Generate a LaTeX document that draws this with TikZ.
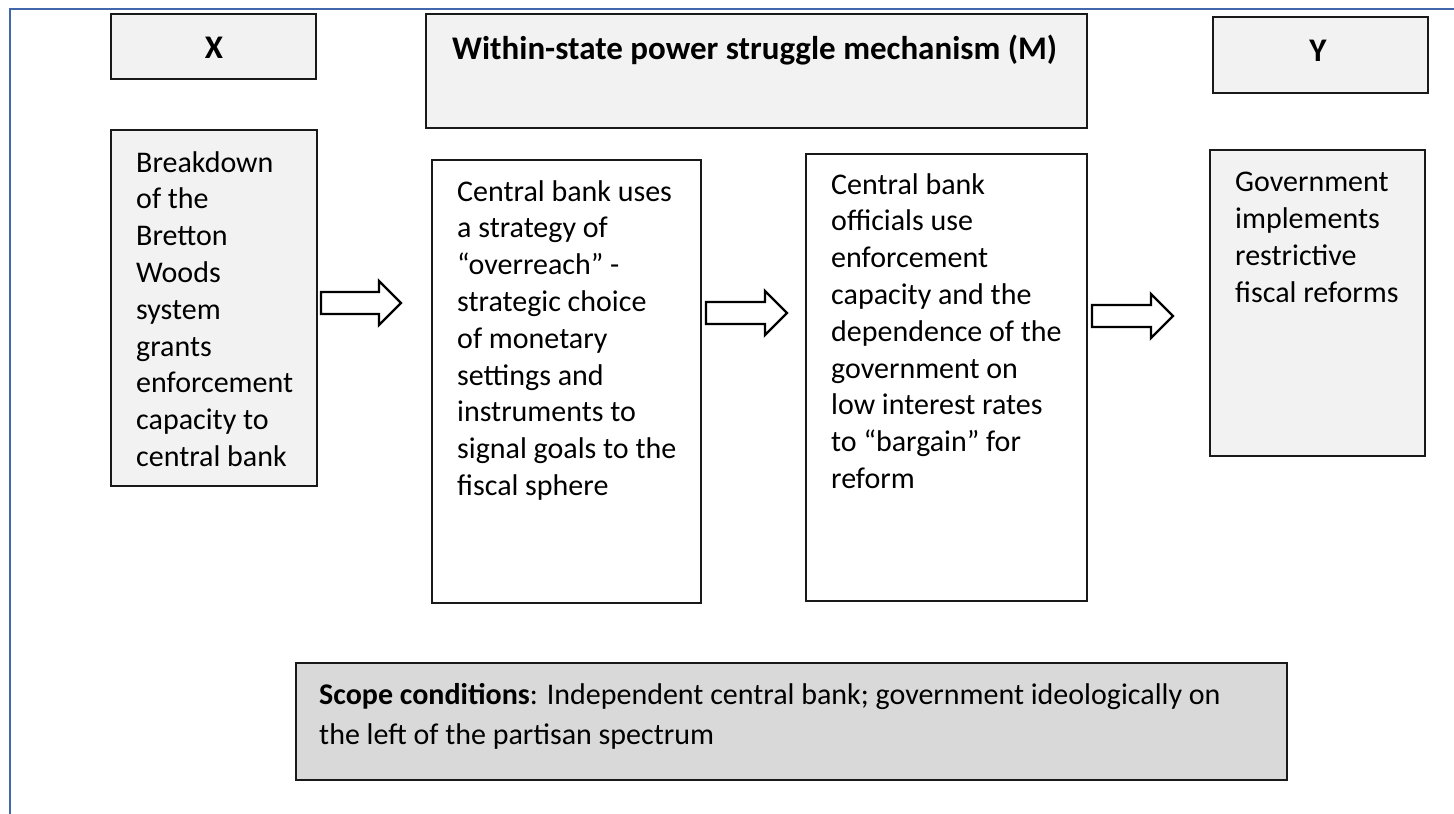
\documentclass[tikz,border=0pt]{standalone}
\usepackage{fontspec}
\setmainfont{Carlito}
\definecolor{framebl}{RGB}{66,103,172}
\definecolor{paleg}{RGB}{242,242,242}
\definecolor{scopeg}{RGB}{217,217,217}
\tikzset{
  boxbase/.style={draw=black!90, line width=2pt, rectangle, inner sep=0pt, outer sep=0pt, anchor=north west},
  lightbox/.style={boxbase, fill=paleg},
  whitebox/.style={boxbase, fill=white},
  scopebox/.style={boxbase, fill=scopeg},
  headtxt/.style={font=\fontsize{33}{37}\selectfont\bfseries, inner sep=0pt, anchor=base},
  % multi-line texts are anchored at the baseline of their last line
  bodytxt/.style={font=\fontsize{30}{36.8}\selectfont, align=left, inner sep=0pt, anchor=base west},
  scopetxt/.style={font=\fontsize{30}{40}\selectfont, align=left, inner sep=0pt, anchor=base west},
  blockarr/.style={draw=black, line width=2.3pt, fill=white, line join=miter}
}
% hollow block arrow: tail x, head base x, tip x, centre y
\newcommand\flowarrow[4]{%
  \draw[blockarr] (#1,#4-11) -- (#2,#4-11) -- (#2,#4-22) -- (#3,#4)
    -- (#2,#4+22) -- (#2,#4+11) -- (#1,#4+11) -- cycle;}
\begin{document}
\begin{tikzpicture}[x=1pt,y=-1pt]
\useasboundingbox (0,0) rectangle (1454,814);
% page frame
\draw[framebl, line width=2.5pt] (10,814) -- (10,9) -- (1454,9);

% header row
\node[lightbox, minimum width=205pt, minimum height=65pt] (xhead) at (111,14) {};
\node[lightbox, minimum width=661pt, minimum height=114pt] (mhead) at (426,14) {};
\node[lightbox, minimum width=215pt, minimum height=76pt] (yhead) at (1213,17) {};
\node[headtxt] (xlab) at (214,58) {X};
\node[headtxt, anchor=base west] (mlab) at (452,59) {Within-state power struggle mechanism (M)};
\node[headtxt] (ylab) at (1318,61) {Y};

% body boxes
\node[lightbox, minimum width=206pt, minimum height=356pt] (xbody) at (111,130) {};
\node[whitebox, minimum width=269pt, minimum height=443pt] (m1body) at (432,160) {};
\node[whitebox, minimum width=281pt, minimum height=447pt] (m2body) at (806,154) {};
\node[lightbox, minimum width=215pt, minimum height=306pt] (ybody) at (1210,150) {};

\node[bodytxt] (xtext) at (136,466.4) {Breakdown\\of the\\Bretton\\Woods\\system\\grants\\enforcement\\capacity to\\central bank};
\node[bodytxt] (m1text) at (457,495.4) {Central bank uses\\a strategy of\\“overreach” -\\strategic choice\\of monetary\\settings and\\instruments to\\signal goals to the\\fiscal sphere};
\node[bodytxt] (m2text) at (831,488.4) {Central bank\\officials use\\enforcement\\capacity and the\\dependence of the\\government on\\low interest rates\\to “bargain” for\\reform};
\node[bodytxt] (ytext) at (1235,302) {Government\\implements\\restrictive\\fiscal reforms};

% block arrows between the stages
\flowarrow{321}{379}{401}{303}
\flowarrow{706}{765}{787}{313}
\flowarrow{1092}{1151}{1173}{316}

% scope conditions
\node[scopebox, minimum width=991pt, minimum height=117pt] (scope) at (296,663) {};
\node[scopetxt] (scopetext) at (319,744) {\textbf{Scope conditions}: Independent central bank; government ideologically on\\the left of the partisan spectrum};
\end{tikzpicture}
\end{document}
